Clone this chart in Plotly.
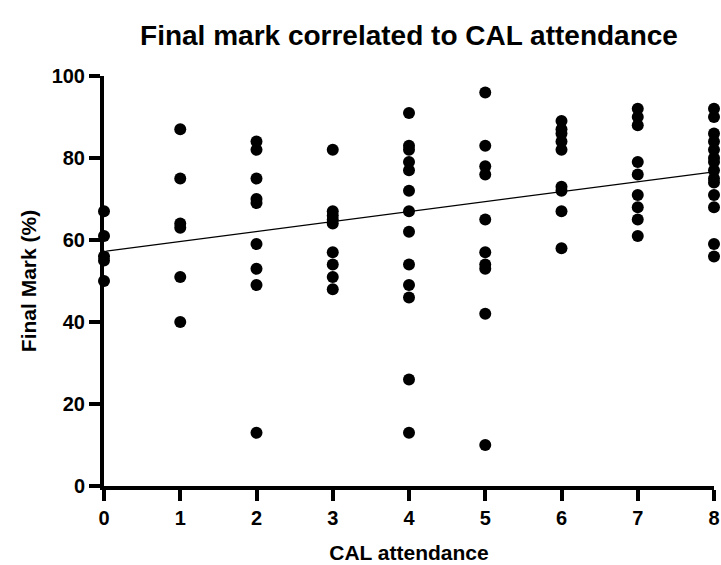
import numpy as np
import plotly.graph_objects as go

# Final marks (%) of students, grouped by CAL attendance value (0..8)
col0 = [67, 61, 56, 55, 50]
col1 = [87, 75, 64, 63, 51, 40]
col2 = [84, 82, 75, 70, 69, 59, 53, 49, 13]
col3 = [82, 67, 66, 65, 64, 57, 54, 51, 48]
col4 = [91, 83, 82, 79, 77, 72, 67, 62, 54, 49, 46, 26, 13]
col5 = [96, 83, 78, 76, 65, 57, 54, 53, 42, 10]
col6 = [89, 87, 86, 84, 82, 73, 72, 67, 58]
col7 = [92, 90, 88, 79, 76, 71, 68, 65, 61]
col8 = [92, 90, 86, 84, 82, 80, 79, 77, 75, 74, 71, 68, 59, 56]

# Regression line
fit_intercept = 57.2
fit_slope = 2.43
fit_range = [0.03, 8.0]

x_ticks = [0, 1, 2, 3, 4, 5, 6, 7, 8]
y_ticks = [0, 20, 40, 60, 80, 100]

columns = [col0, col1, col2, col3, col4, col5, col6, col7, col8]
attendance = []
marks = []
for a, col in enumerate(columns):
    attendance += [a] * len(col)
    marks += col

fit_x = np.array(fit_range)
fit_y = fit_intercept + fit_slope * fit_x

FONT = "Liberation Sans, Arial, sans-serif"

fig = go.Figure()
fig.add_trace(go.Scatter(
    x=fit_x, y=fit_y, mode="lines",
    line=dict(color="black", width=1.3),
    hoverinfo="skip", cliponaxis=False,
))
fig.add_trace(go.Scatter(
    x=attendance, y=marks, mode="markers",
    marker=dict(color="black", size=12),
    cliponaxis=False,
))

axis_common = dict(
    showgrid=False, zeroline=False, automargin=False,
    showline=True, linecolor="black", linewidth=4,
    ticks="outside", ticklen=11, tickwidth=4, tickcolor="black",
    tickfont=dict(family=FONT, size=20, color="black", weight="bold"),
)

fig.update_layout(
    width=721, height=565,
    margin=dict(l=104, r=7, t=76, b=79),
    paper_bgcolor="white", plot_bgcolor="white",
    showlegend=False,
    title=dict(
        text="Final mark correlated to CAL attendance",
        font=dict(family=FONT, size=28, color="black", weight="bold"),
        xref="paper", x=0.5, xanchor="center",
        y=1 - 35 / 565, yanchor="middle",
    ),
    xaxis=dict(
        range=[0, 8], tickvals=x_ticks,
        title=dict(text="CAL attendance", standoff=18,
                   font=dict(family=FONT, size=21, color="black", weight="bold")),
        **axis_common,
    ),
    yaxis=dict(
        range=[0, 100], tickvals=y_ticks,
        title=dict(text="Final Mark (%)", standoff=10,
                   font=dict(family=FONT, size=21, color="black", weight="bold")),
        **axis_common,
    ),
)

fig.write_html("out.html", config={"displayModeBar": False},
               post_script="document.body.style.margin='0px';")
